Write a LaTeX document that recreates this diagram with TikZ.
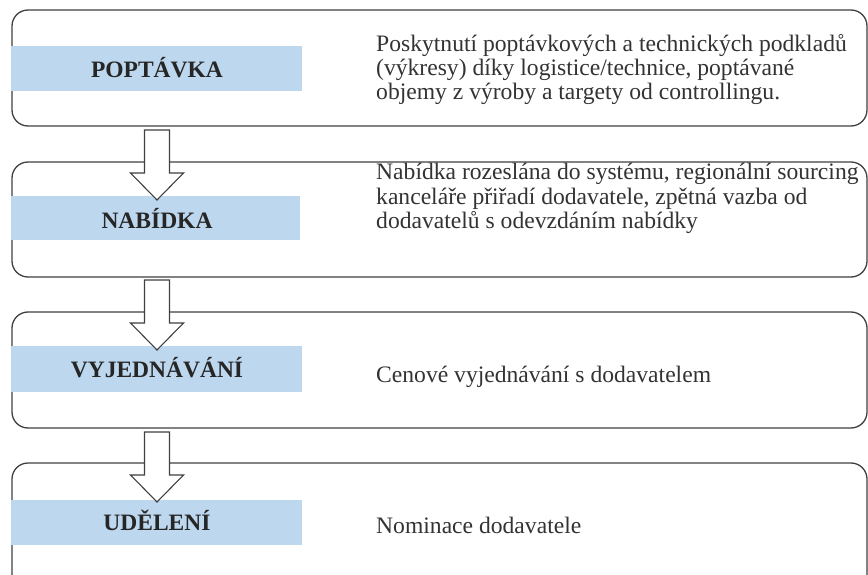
\documentclass[tikz,border=0pt]{standalone}
\usepackage{fontspec}
\setmainfont{Liberation Serif}
\usetikzlibrary{calc}
\definecolor{barblue}{HTML}{BDD7EE}
\definecolor{edge}{HTML}{404040}
\begin{document}
\begin{tikzpicture}[x=1pt,y=-1pt,
  box/.style={draw=edge, line width=1.3pt, rounded corners=16pt, fill=white},
  bar/.style={fill=barblue, draw=none},
  lbl/.style={font=\fontsize{23.5}{24}\selectfont\bfseries, text=black!85, anchor=base, inner sep=0pt},
  desc/.style={font=\fontsize{23.6}{24}\selectfont, text=black!80, align=left, anchor=base west, inner sep=0pt},
  bigarrow/.style={draw=edge, line width=1.1pt, fill=white, line join=miter}]
\useasboundingbox (0,0) rectangle (868,575);
% boxes
\draw[box] (12,10) rectangle (867,126);
\node[inner sep=0pt] (b1) at (439.5,68) {};
\draw[box] (12,162) rectangle (867,277);
\node[inner sep=0pt] (b2) at (439.5,219.5) {};
\draw[box] (12,312) rectangle (867,428);
\node[inner sep=0pt] (b3) at (439.5,370) {};
\draw[box] (12,463) rectangle (867,600);
\node[inner sep=0pt] (b4) at (439.5,531) {};
% bars
\fill[bar] (11,46) rectangle (302,91);
\fill[bar] (11,196) rectangle (300,240);
\fill[bar] (11,346) rectangle (302,392);
\fill[bar] (11,500) rectangle (302,545);
% labels
\node[lbl] (l1) at (157,78) {POPTÁVKA};
\node[lbl] (l2) at (157,228) {NABÍDKA};
\node[lbl] (l3) at (157,377) {VYJEDNÁVÁNÍ};
\node[lbl] (l4) at (157,530) {UDĚLENÍ};
% descriptions (anchored at the baseline of the last line)
\node[desc] (d1) at (376,100) {Poskytnutí poptávkových a technických podkladů\\(výkresy) díky logistice/technice, poptávané\\objemy z výroby a targety od controllingu.};
\node[desc] (d2) at (376,228) {Nabídka rozeslána do systému, regionální sourcing\\kanceláře přiřadí dodavatele, zpětná vazba od\\dodavatelů s odevzdáním nabídky};
\node[desc] (d3) at (376,382) {Cenové vyjednávání s dodavatelem};
\node[desc] (d4) at (376,533) {Nominace dodavatele};
% arrows
\coordinate (a1) at (157,130);
\coordinate (a2) at (157,280);
\coordinate (a3) at (157,432);
\foreach \a in {a1,a2,a3}{
  \draw[bigarrow] (\a) ++(-12.5,0) -- ++(25,0) -- ++(0,43) -- ++(14,0) -- ++(-26.5,27) -- ++(-26.5,-27) -- ++(14,0) -- cycle;
}
\end{tikzpicture}
\end{document}
